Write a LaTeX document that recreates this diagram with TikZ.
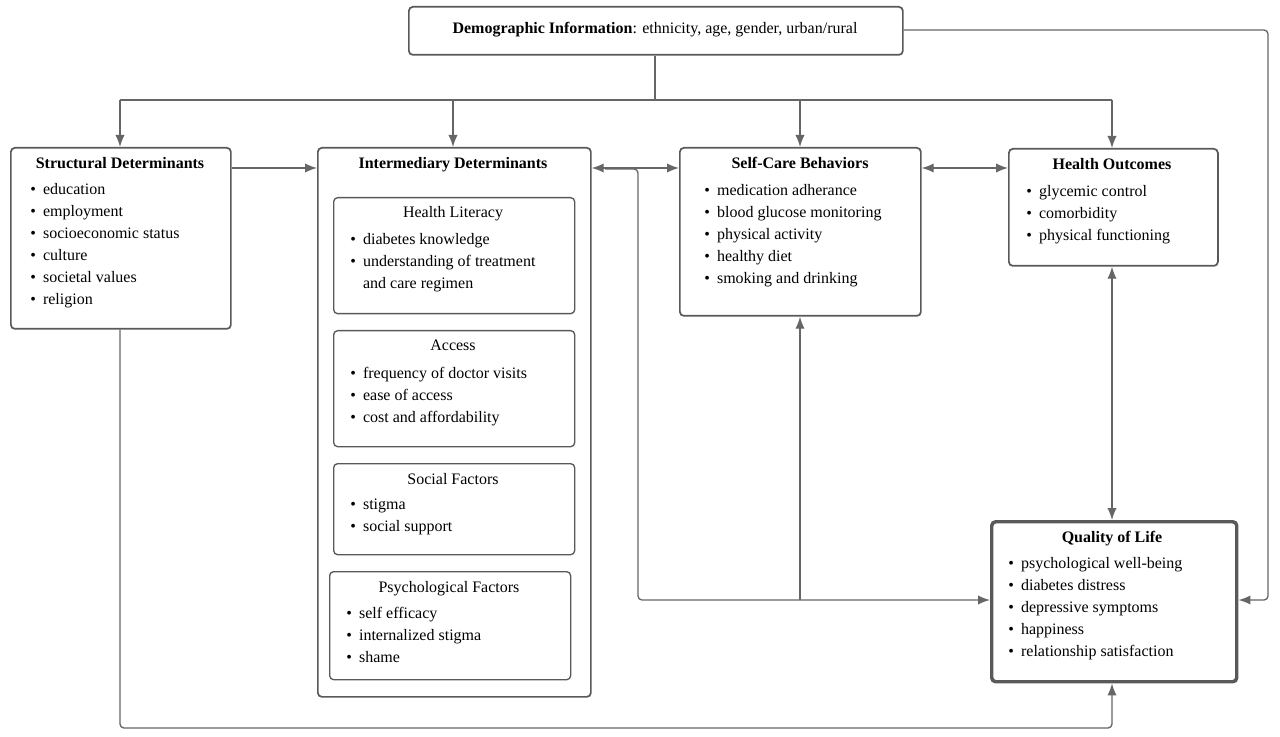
\documentclass[tikz,border=0pt]{standalone}
\usepackage{fontspec}
\setmainfont{Liberation Serif}
\usetikzlibrary{arrows.meta}
\begin{document}
\begin{tikzpicture}[x=0.75pt,y=-0.75pt,
  box/.style={draw=black!65,line width=1.3pt,rounded corners=3pt,anchor=north west,inner sep=0pt},
  txt/.style={anchor=north west,align=left,inner sep=0pt,font=\fontsize{12}{16.5}\selectfont},
  ttl/.style={anchor=north,inner sep=0pt,font=\fontsize{12}{14}\selectfont\bfseries},
  sttl/.style={anchor=north,inner sep=0pt,font=\fontsize{12}{14}\selectfont},
  arr/.style={draw=black!60,line width=1pt,-{Latex[length=9pt,width=7pt]}},
  darr/.style={draw=black!60,line width=1pt,{Latex[length=9pt,width=7pt]}-{Latex[length=9pt,width=7pt]}},
  ln/.style={draw=black!60,line width=1pt,rounded corners=3pt}]
\useasboundingbox (0,0) rectangle (1280,737);
\newcommand{\bl}{\textbullet\hspace{0.45em}}
% boxes
\node[box,minimum width=370.5pt,minimum height=36pt] (demo) at (408,6) {};
\node[anchor=center,inner sep=0pt,font=\fontsize{12}{14}\selectfont] (demot) at (655,30) {\textbf{Demographic Information}: ethnicity, age, gender, urban/rural};
\node[box,minimum width=165pt,minimum height=135.75pt] (struct) at (10,147) {};
\node[ttl] (structt) at (120,157) {Structural Determinants};
\node[txt] (structl) at (30,183) {\bl education\\\bl employment\\\bl socioeconomic status\\\bl culture\\\bl societal values\\\bl religion};
\node[box,minimum width=204.75pt,minimum height=411.75pt] (inter) at (317,147) {};
\node[ttl] (intert) at (453,157) {Intermediary Determinants};
\node[box,line width=1pt,minimum width=180.75pt,minimum height=87pt] (hl) at (333,197) {};
\node[sttl] (hlt) at (453,206) {Health Literacy};
\node[txt] (hll) at (350,233) {\bl diabetes knowledge\\\bl understanding of treatment\\\phantom{\bl}and care regimen};
\node[box,line width=1pt,minimum width=180.75pt,minimum height=87pt] (acc) at (333,330) {};
\node[sttl] (acct) at (453,340) {Access};
\node[txt] (accl) at (350,367) {\bl frequency of doctor visits\\\bl ease of access\\\bl cost and affordability};
\node[box,line width=1pt,minimum width=180.75pt,minimum height=68.25pt] (soc) at (333,463) {};
\node[sttl] (soct) at (453,473) {Social Factors};
\node[txt] (socl) at (350,499) {\bl stigma\\\bl social support};
\node[box,line width=1pt,minimum width=180.75pt,minimum height=81pt] (psy) at (329,571) {};
\node[sttl] (psyt) at (449,581) {Psychological Factors};
\node[txt] (psyl) at (346,607) {\bl self efficacy\\\bl internalized stigma\\\bl shame};
\node[box,minimum width=180.75pt,minimum height=126pt] (self) at (679,147) {};
\node[ttl] (selft) at (800,157) {Self-Care Behaviors};
\node[txt] (selfl) at (704,184) {\bl medication adherance\\\bl blood glucose monitoring\\\bl physical activity\\\bl healthy diet\\\bl smoking and drinking};
\node[box,minimum width=156.75pt,minimum height=87.75pt] (ho) at (1008,148) {};
\node[ttl] (hot) at (1112,158) {Health Outcomes};
\node[txt] (hol) at (1026,185) {\bl glycemic control\\\bl comorbidity\\\bl physical functioning};
\node[box,line width=2.6pt,minimum width=183.75pt,minimum height=120pt] (qol) at (990,520) {};
\node[ttl] (qolt) at (1112,531) {Quality of Life};
\node[txt] (qoll) at (1008,557) {\bl psychological well-being\\\bl diabetes distress\\\bl depressive symptoms\\\bl happiness\\\bl relationship satisfaction};
% junction coordinates
\coordinate (j0) at (655,100);
\coordinate (jr) at (1268,30);
\coordinate (jv) at (638,168);
\coordinate (jb) at (800,600);
% demographic fan
\draw[ln] (demo.south -| j0) -- (j0);
\draw[ln] (120,100) -- (1112,100);
\draw[arr] (120,100) -- (struct.north -| 120,0);
\draw[arr] (453,100) -- (inter.north -| 453,0);
\draw[arr] (800,100) -- (self.north -| 800,0);
\draw[arr] (1112,100) -- (ho.north -| 1112,0);
\draw[arr,rounded corners=3pt] (demo.east |- jr) -- (jr) -- (1268,600) -- (qol.east |- 0,600);
% horizontal links
\draw[arr] (struct.east |- 0,168) -- (inter.west |- 0,168);
\draw[darr] (inter.east |- 0,168) -- (self.west |- 0,168);
\draw[darr] (self.east |- 0,168) -- (ho.west |- 0,168);
\draw[darr] (ho.south -| 1112,0) -- (qol.north -| 1112,0);
% intermediary to QoL
\draw[arr,rounded corners=3pt] (605,169) -- (jv |- 0,169) -- (638,600) -- (qol.west |- 0,600);
\draw[arr] (jb) -- (self.south -| jb);
% structural to QoL
\draw[arr,rounded corners=3pt] (struct.south -| 120,0) -- (120,728) -- (1112,728) -- (qol.south -| 1112,0);
\end{tikzpicture}
\end{document}
